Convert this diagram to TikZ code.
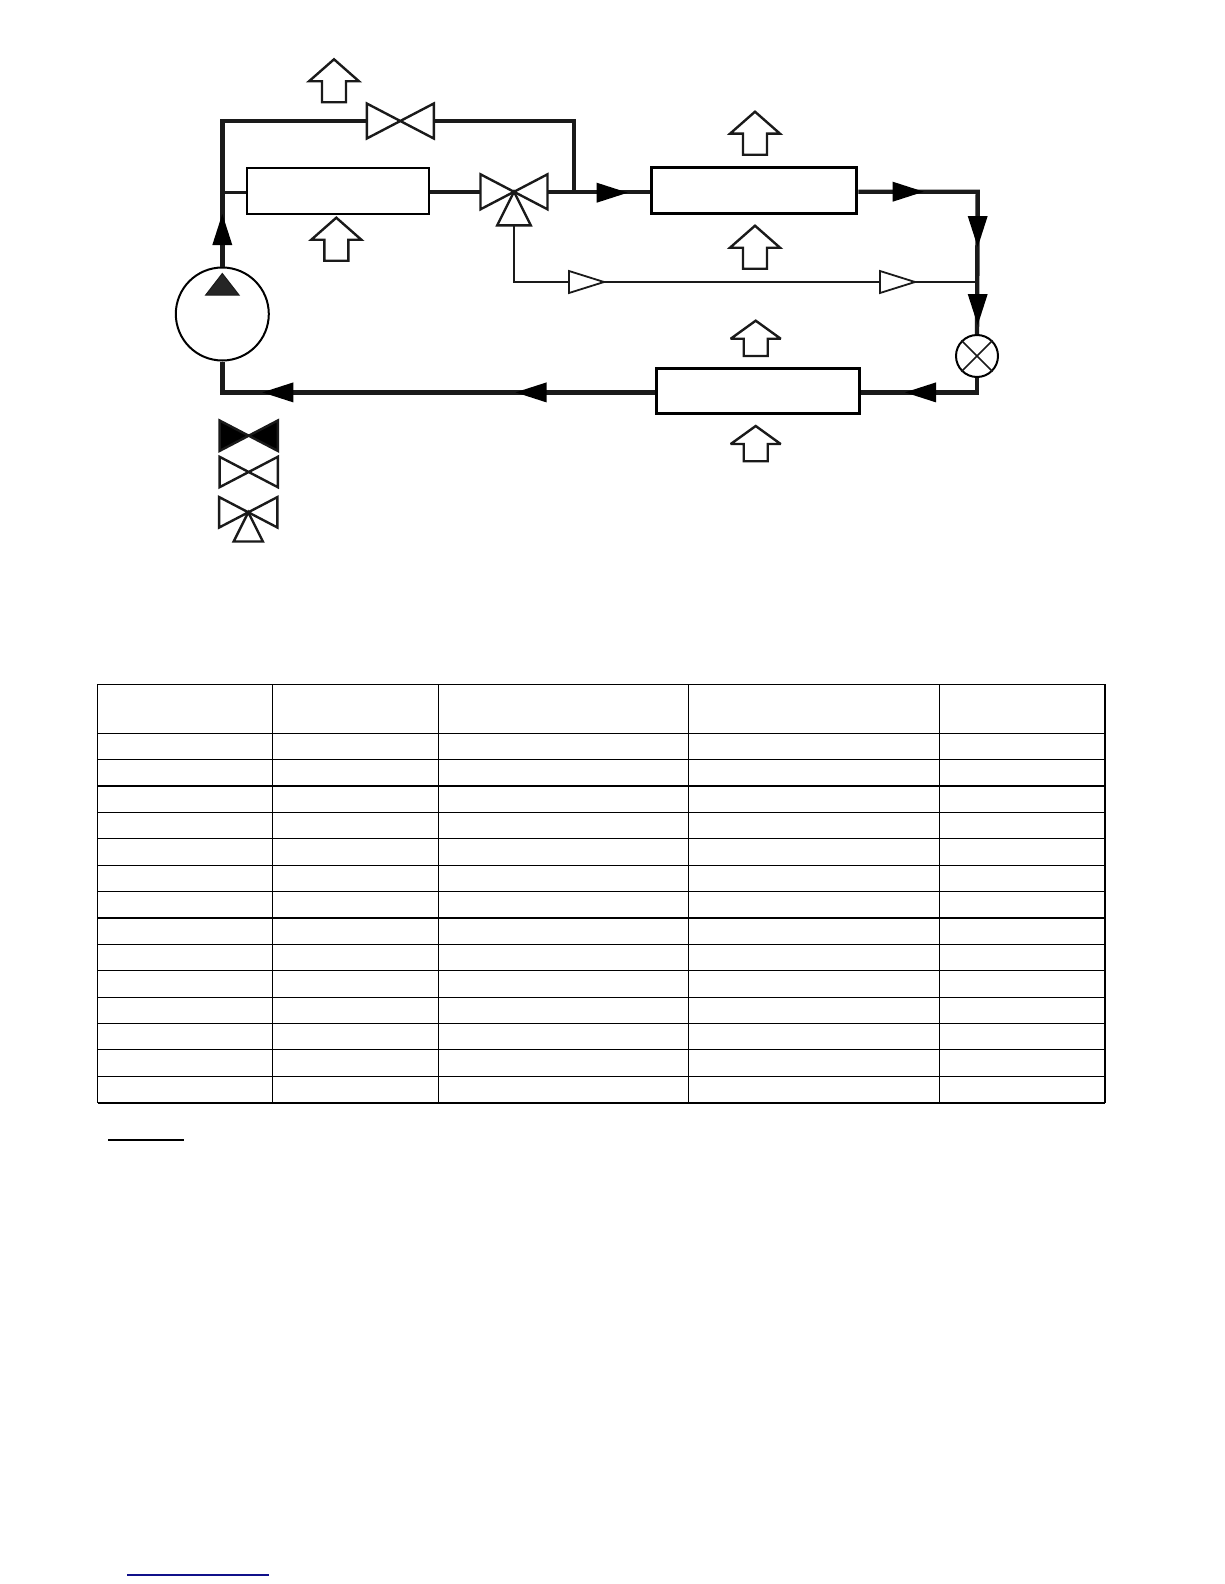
\documentclass[tikz,border=0pt]{standalone}
\usepackage{tikz}
\usetikzlibrary{positioning,calc}
\definecolor{pipecol}{HTML}{1A1A1A}
\definecolor{linkblue}{HTML}{10108A}
\tikzset{
  pipe/.style={draw=pipecol,line width=4.4pt},
  thinpipe/.style={draw=pipecol,line width=1.5pt},
  unit/.style={draw=black,fill=white,inner sep=0pt,line width=#1},
  unit/.default=2pt,
  grid/.style={draw=black,line width=1.2pt},
  flowtip/.pic={
    \fill[black] (0,-10) -- (31,0) -- (0,10) -- cycle;
  },
  opentip/.pic={
    \draw[pipecol,fill=white,line width=1.8pt] (0,-11) -- (35,0) -- (0,11) -- cycle;
    \coordinate (-w) at (0,0);
    \coordinate (-e) at (35,0);
  },
  airflow/.pic={
    \draw[pipecol,fill=white,line width=2.4pt,miter limit=3]
      (0,0) -- (25,22) -- (12,22) -- (12,43) -- (-12,43) -- (-12,22) -- (-25,22) -- cycle;
  },
  valve/.pic={
    \draw[pipecol,fill=white,line width=2.4pt]
      (0,0) -- (-33.5,-17.5) -- (-33.5,17.5) -- cycle
      (0,0) -- (33.5,-17.5) -- (33.5,17.5) -- cycle;
    \coordinate (-w) at (-33.5,0);
    \coordinate (-e) at (33.5,0);
  },
  solidvalve/.pic={
    \draw[pipecol,fill=black,line width=2.4pt]
      (0,0) -- (-33.5,-17.5) -- (-33.5,17.5) -- cycle
      (0,0) -- (33.5,-17.5) -- (33.5,17.5) -- cycle;
  },
  threeway/.pic={
    \draw[pipecol,fill=white,line width=2.4pt]
      (0,0) -- (-33.5,-17.5) -- (-33.5,17.5) -- cycle
      (0,0) -- (33.5,-17.5) -- (33.5,17.5) -- cycle;
    \draw[pipecol,fill=white,line width=2.4pt] (0,0) -- (-16.8,33.6) -- (16.8,33.6) -- cycle;
    \coordinate (-w) at (-33.5,0);
    \coordinate (-e) at (33.5,0);
    \coordinate (-s) at (0,33.6);
  },
}
\begin{document}
\begin{tikzpicture}[x=1pt,y=-1pt]
\useasboundingbox[fill=white] (0,0) rectangle (1224,1584);

\node[unit,circle,minimum size=93pt] (comp) at (222.3,314) {};
\node[unit,minimum width=182.3pt,minimum height=46.3pt] (cond1) at (337.9,190.8) {};
\node[unit=3pt,minimum width=205.3pt,minimum height=45.7pt] (cond2) at (754.2,190.4) {};
\node[unit=3pt,minimum width=203pt,minimum height=45.5pt] (evap) at (757.6,391.2) {};
\node[unit,circle,minimum size=42pt] (expv) at (977,356) {};
\draw[line width=1.5pt,pipecol] (expv.north west) -- (expv.south east) (expv.north east) -- (expv.south west);

\pic (v1) at (400.3,121) {valve};
\pic (v2) at (514,191.8) {threeway};
\pic (t1) at (569,282) {opentip};
\pic (t2) at (880,282) {opentip};

\coordinate (j1) at (222.3,192.7);
\coordinate (j2) at (573.7,192.7);
\coordinate (j3) at (977.7,282);
\coordinate (c1) at (977.7,191.7);
\coordinate (c2) at (977.7,392.4);
\coordinate (c3) at (222.3,392.4);

\draw[pipe] (comp.north) |- (v1-w);
\draw[pipe] (v1-e) -| (j2);
\draw[pipe,line width=3.5pt] (j1) -- (cond1.west |- j1);
\draw[pipe] (cond1.east |- v2-w) -- (v2-w);
\draw[pipe] (v2-e) -- (cond2.west |- v2-e);
\draw[pipe] (cond2.east |- c1) -- (c1) -- (expv.north);
\draw[pipe] (expv.south) |- (evap.east |- c2);
\draw[pipe] (evap.west |- c2) -- (c3) -- (comp.south);
\draw[thinpipe] (v2-s) |- (t1-w);
\draw[thinpipe] (t1-e) -- (t2-w);
\draw[thinpipe] (t2-e) -- (j3);

\pic[rotate=90] at (222.3,245) {flowtip};
\pic at (596.7,192.7) {flowtip};
\pic at (892.7,191.7) {flowtip};
\pic[rotate=-90] at (977.7,216) {flowtip};
\pic[rotate=-90] at (977.7,294) {flowtip};
\pic[rotate=180] at (936,392.4) {flowtip};
\pic[rotate=180] at (546.5,392.4) {flowtip};
\pic[rotate=180] at (293.3,392.4) {flowtip};

\filldraw[draw=pipecol,fill=pipecol!95,line width=1pt] (222.3,273.5) -- (239,295) -- (205.7,295) -- cycle;

\pic at (334,59.3) {airflow};
\pic at (336.3,217.7) {airflow};
\pic at (755,111.7) {airflow};
\pic at (755,225.7) {airflow};
\pic[yscale=.82] at (755.7,320.7) {airflow};
\pic[yscale=.82] at (755.7,426) {airflow};

\pic[scale=.87] (k1) at (248.7,435.7) {solidvalve};
\pic[scale=.87] (k2) at (248.7,472) {valve};
\pic[scale=.87] (k3) at (248.3,512.3) {threeway};

\draw[grid] (97.7,684.7) rectangle (1105,1102.7);
\draw[black,line width=2.4pt] (97.7,1102.7) -- (1105,1102.7);
\foreach \rowy in {0,...,13}
  \draw[grid] (97.7,733.3+26.38*\rowy) -- (1105,733.3+26.38*\rowy);
\foreach \colx in {272.7,438.3,688.7,939.3}
  \draw[grid] (\colx,684.7) -- (\colx,1102.7);

\draw[black,line width=1.2pt] (108.3,1140) -- (184,1140);
\draw[linkblue,line width=1.2pt] (127.3,1575) -- (268.7,1575);
\end{tikzpicture}
\end{document}
